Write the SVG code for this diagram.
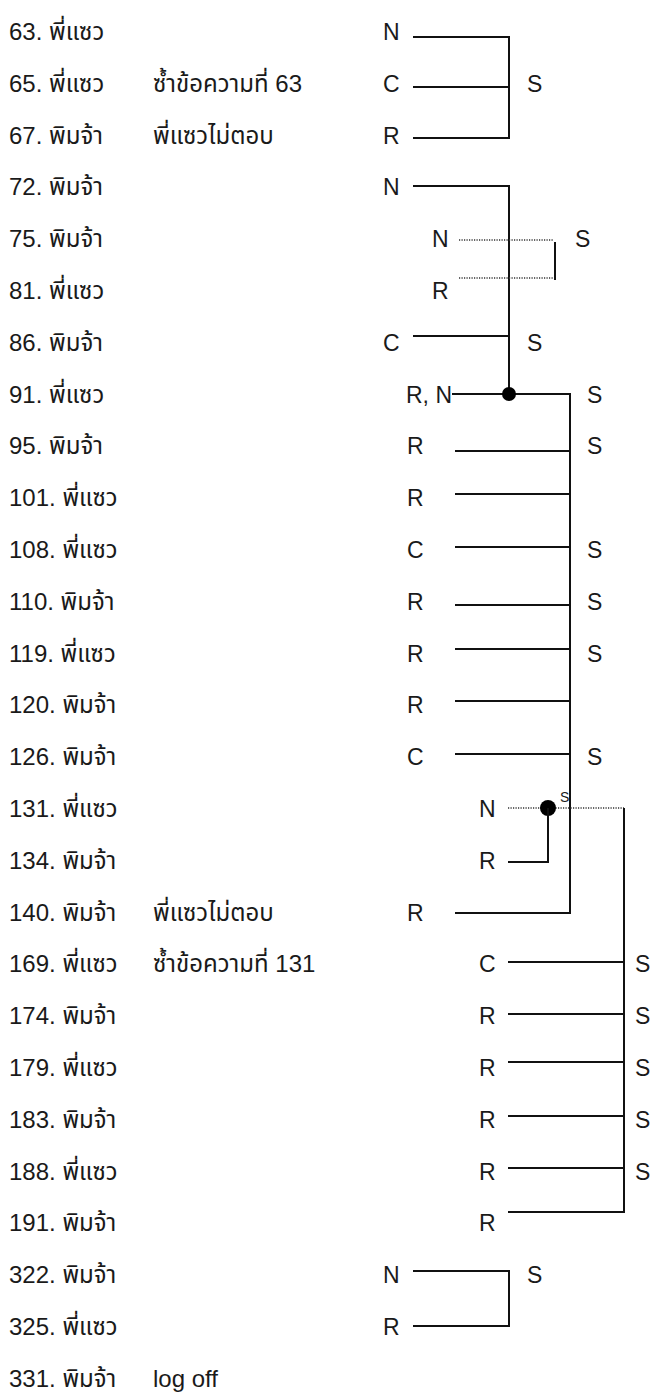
<svg xmlns="http://www.w3.org/2000/svg" width="650" height="1393" viewBox="0 0 650 1393">
<style>
text{font-family:"Liberation Sans","Noto Sans Thai","Noto Sans",sans-serif;font-size:23px;fill:#1a1a1a}
#rows text{font-size:24px}
.s{font-size:14px}
.ln{stroke:#111;stroke-width:2;fill:none}
.dt{stroke:#333;stroke-width:1.5;stroke-dasharray:1.2 1.3;fill:none}
</style>
<rect width="650" height="1393" fill="#fff"/>
<g id="rows">
<g id="r63"><text x="9" y="40">63. พี่แซว</text></g>
<g id="r65"><text x="9" y="92">65. พี่แซว</text><text x="153" y="92">ซ้ำข้อความที่ 63</text></g>
<g id="r67"><text x="9" y="144">67. พิมจ้า</text><text x="153" y="144">พี่แซวไม่ตอบ</text></g>
<g id="r72"><text x="9" y="195">72. พิมจ้า</text></g>
<g id="r75"><text x="9" y="247">75. พิมจ้า</text></g>
<g id="r81"><text x="9" y="299">81. พี่แซว</text></g>
<g id="r86"><text x="9" y="351">86. พิมจ้า</text></g>
<g id="r91"><text x="9" y="403">91. พี่แซว</text></g>
<g id="r95"><text x="9" y="454">95. พิมจ้า</text></g>
<g id="r101"><text x="9" y="506">101. พี่แซว</text></g>
<g id="r108"><text x="9" y="558">108. พี่แซว</text></g>
<g id="r110"><text x="9" y="610">110. พิมจ้า</text></g>
<g id="r119"><text x="9" y="662">119. พี่แซว</text></g>
<g id="r120"><text x="9" y="713">120. พิมจ้า</text></g>
<g id="r126"><text x="9" y="765">126. พิมจ้า</text></g>
<g id="r131"><text x="9" y="817">131. พี่แซว</text></g>
<g id="r134"><text x="9" y="869">134. พิมจ้า</text></g>
<g id="r140"><text x="9" y="921">140. พิมจ้า</text><text x="153" y="921">พี่แซวไม่ตอบ</text></g>
<g id="r169"><text x="9" y="972">169. พี่แซว</text><text x="153" y="972">ซ้ำข้อความที่ 131</text></g>
<g id="r174"><text x="9" y="1024">174. พิมจ้า</text></g>
<g id="r179"><text x="9" y="1076">179. พี่แซว</text></g>
<g id="r183"><text x="9" y="1128">183. พิมจ้า</text></g>
<g id="r188"><text x="9" y="1180">188. พี่แซว</text></g>
<g id="r191"><text x="9" y="1231">191. พิมจ้า</text></g>
<g id="r322"><text x="9" y="1283">322. พิมจ้า</text></g>
<g id="r325"><text x="9" y="1335">325. พี่แซว</text></g>
<g id="r331"><text x="9" y="1387">331. พิมจ้า</text><text x="153" y="1387">log off</text></g>
</g>
<g id="codes">
<g id="c63"><text x="383" y="40">N</text></g>
<g id="c65"><text x="383" y="92">C</text><text x="527" y="92">S</text></g>
<g id="c67"><text x="383" y="144">R</text></g>
<g id="c72"><text x="383" y="195">N</text></g>
<g id="c75"><text x="432" y="247">N</text><text x="575" y="247">S</text></g>
<g id="c81"><text x="432" y="299">R</text></g>
<g id="c86"><text x="383" y="351">C</text><text x="527" y="351">S</text></g>
<g id="c91"><text x="406" y="403" textLength="46">R, N</text><text x="587" y="403">S</text></g>
<g id="c95"><text x="407" y="454">R</text><text x="587" y="454">S</text></g>
<g id="c101"><text x="407" y="506">R</text></g>
<g id="c108"><text x="407" y="558">C</text><text x="587" y="558">S</text></g>
<g id="c110"><text x="407" y="610">R</text><text x="587" y="610">S</text></g>
<g id="c119"><text x="407" y="662">R</text><text x="587" y="662">S</text></g>
<g id="c120"><text x="407" y="713">R</text></g>
<g id="c126"><text x="407" y="765">C</text><text x="587" y="765">S</text></g>
<g id="c131"><text x="479" y="817">N</text><text class="s" x="560" y="802">S</text></g>
<g id="c134"><text x="479" y="869">R</text></g>
<g id="c140"><text x="407" y="921">R</text></g>
<g id="c169"><text x="479" y="972">C</text><text x="635" y="972">S</text></g>
<g id="c174"><text x="479" y="1024">R</text><text x="635" y="1024">S</text></g>
<g id="c179"><text x="479" y="1076">R</text><text x="635" y="1076">S</text></g>
<g id="c183"><text x="479" y="1128">R</text><text x="635" y="1128">S</text></g>
<g id="c188"><text x="479" y="1180">R</text><text x="635" y="1180">S</text></g>
<g id="c191"><text x="479" y="1231">R</text></g>
<g id="c322"><text x="383" y="1283">N</text><text x="527" y="1283">S</text></g>
<g id="c325"><text x="383" y="1335">R</text></g>
</g>
<g id="connectors">
<path class="ln" d="M413 37H509V138H413M413 87H509"/>
<path class="ln" d="M413 186H509V394M413 336H509"/>
<path class="dt" d="M459 240H553M459 278H553"/>
<path class="ln" d="M555 242V280"/>
<path class="ln" d="M452 394H570V913H455M455 451H570M455 494H570M455 547H570M455 605H570M455 649H570M455 701H570M455 754H570"/>
<circle cx="509" cy="394" r="7" fill="#000"/>
<path class="dt" d="M508 808H624"/>
<circle cx="548" cy="808" r="8" fill="#000"/>
<path class="ln" d="M548 808V862H508"/>
<path class="ln" d="M624 808V1212H508M508 962H624M508 1014H624M508 1062H624M508 1116H624M508 1168H624"/>
<path class="ln" d="M413 1271H509V1326H413"/>
</g>
</svg>
